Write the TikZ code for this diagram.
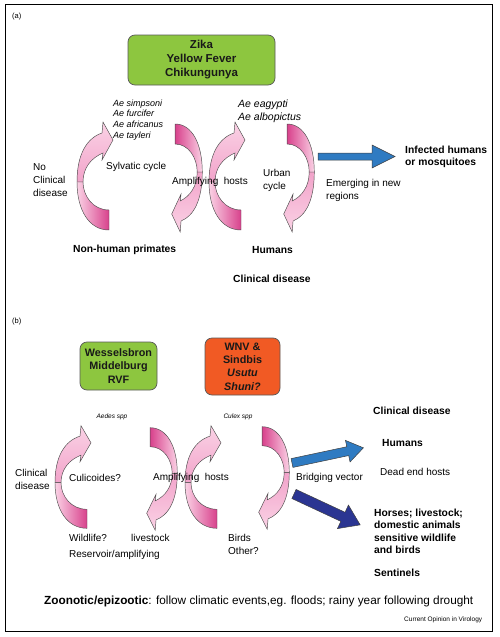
\documentclass[tikz,border=0pt]{standalone}
\usepackage{fontspec}
\setmainfont{Liberation Sans}
\usetikzlibrary{positioning}

\definecolor{pinklight}{HTML}{FAD2E5}
\definecolor{pinkmid}{HTML}{F2A3CA}
\definecolor{magdark}{HTML}{D8418C}
\definecolor{boxgreen}{HTML}{8DC63F}
\definecolor{boxorange}{HTML}{F15A24}
\definecolor{arrblue}{HTML}{2F7BC2}
\definecolor{arrnavy}{HTML}{2B3592}

\tikzset{
  lbl/.style={inner sep=0pt, anchor=west, font=\fontsize{10}{13}\selectfont},
  blbl/.style={lbl, font=\fontsize{10.3}{12.3}\selectfont\bfseries},
  spec/.style={lbl, anchor=north west, align=left, font=\fontsize{9}{10.7}\selectfont\itshape},
  virusbox/.style={draw=black!65, line width=0.7pt, rounded corners=7pt, align=center, inner sep=0pt, text=black!90},
  arrowline/.style={draw=black!70, line width=0.45pt},
  blockline/.style={draw=black!75, line width=0.5pt},
  upper band/.style={top color=pinklight, bottom color=pinkmid},
  lower band/.style={left color=pinklight, right color=magdark},
  flipped/.style={rotate=180, xscale=0.85,
    upper band/.style={top color=pinkmid, bottom color=pinklight},
    lower band/.style={left color=magdark, right color=pinklight}},
  carrow/.pic={
    % head and upper half of the band
    \shadedraw[arrowline, upper band] (-18,6) .. controls (-18,-22) and (-8,-38) .. (7,-43)
      -- (8,-54) -- (18,-36) -- (7,-16) -- (8,-23)
      .. controls (-4,-18) and (-12,-8) .. (-12,6) -- cycle;
    % lower half of the band, down to the tail
    \shadedraw[arrowline, lower band] (-18,6) .. controls (-18,34) and (-6,54) .. (14,54)
      -- (14,34) .. controls (-2,34) and (-12,20) .. (-12,6) -- cycle;
  }
}

\begin{document}
\begin{tikzpicture}[x=1pt,y=-1pt]
\useasboundingbox (0,0) rectangle (499,637);
\draw[line width=0.8pt] (5,4) rectangle (492,631);

% (a) sylvatic and urban cycles
\pic at (95,176) {carrow};
\pic[flipped] at (187,178) {carrow};
\pic at (227,176) {carrow};
\pic[flipped] at (299,178) {carrow};
\draw[blockline, fill=arrblue] (318,153) -- (372,153) -- (372,145) -- (395,156.5)
  -- (372,168) -- (372,160) -- (318,160) -- cycle;

% (b) two cycles
\pic[yscale=0.95] at (73,477) {carrow};
\pic[flipped, yscale=0.95] at (162,479) {carrow};
\pic[yscale=0.95] at (203,477) {carrow};
\pic[flipped, yscale=0.95] at (274,478) {carrow};
\begin{scope}[shift={(292,463)}, rotate=12]
  \draw[blockline, fill=arrblue] (0,-4.5) -- (57,-4.5) -- (57,-11) -- (73,0)
    -- (57,11) -- (57,4.5) -- (0,4.5) -- cycle;
\end{scope}
\begin{scope}[shift={(294,494)}, rotate=-25]
  \draw[blockline, fill=arrnavy] (0,-5) -- (54,-5) -- (54,-13) -- (73,0)
    -- (54,13) -- (54,5) -- (0,5) -- cycle;
\end{scope}

% labels (a)
\node[lbl, font=\fontsize{7.5}{9}\selectfont] (pa) at (12,17) {(a)};
\node[virusbox, fill=boxgreen, minimum width=147, minimum height=50,
  font=\fontsize{11.5}{14}\selectfont\bfseries] (flavi) at (201.5,60) {Zika\\Yellow Fever\\Chikungunya};
\node[spec] (sylvvec) at (113,99.5) {Ae simpsoni\\Ae furcifer\\Ae africanus\\Ae tayleri};
\node[spec, font=\fontsize{10.5}{13}\selectfont\itshape] (urbvec) at (238,100) {Ae eagypti\\Ae albopictus};
\node[lbl, anchor=north west, align=left] (noclin) at (33,163) {No\\Clinical\\disease};
\node[lbl] (sylv) at (106,167) {Sylvatic cycle};
\node[lbl] (amplA) at (172,182) {Amplifying\ \ hosts};
\node[lbl, anchor=north west, align=left] (urban) at (263,169) {Urban\\cycle};
\node[lbl, anchor=north west, align=left] (emerg) at (326,179) {Emerging in new\\regions};
\node[blbl] (nhp) at (73,250) {Non-human primates};
\node[blbl] (humA) at (252,250) {Humans};
\node[blbl] (clinA) at (233,279) {Clinical disease};
\node[blbl, anchor=north west, align=left] (infect) at (405,146) {Infected humans\\or mosquitoes};

% labels (b)
\node[lbl, font=\fontsize{7.5}{9}\selectfont] (pb) at (12,322) {(b)};
\node[virusbox, fill=boxgreen, minimum width=77, minimum height=48,
  font=\fontsize{10.8}{13.5}\selectfont\bfseries] (wess) at (118.5,366) {Wesselsbron\\Middelburg\\RVF};
\node[virusbox, fill=boxorange, minimum width=75, minimum height=57,
  font=\fontsize{10.8}{13.4}\selectfont\bfseries] (wnv) at (242.5,366.5) {WNV \&\\Sindbis\\\textit{Usutu}\\\textit{Shuni?}};
\node[lbl, anchor=center, font=\fontsize{6.5}{8}\selectfont\itshape] (aedes) at (112,417) {Aedes spp};
\node[lbl, anchor=center, font=\fontsize{6.5}{8}\selectfont\itshape] (culex) at (238,417) {Culex spp};
\node[blbl] (clinB) at (373,411) {Clinical disease};
\node[blbl] (humB) at (382,443) {Humans};
\node[lbl] (deadend) at (380,472) {Dead end hosts};
\node[lbl] (bridge) at (296,478) {Bridging vector};
\node[lbl, anchor=north west, align=left] (clinC) at (15,469) {Clinical\\disease};
\node[lbl] (culic) at (69,478) {Culicoides?};
\node[lbl] (amplB) at (153,478) {Amplifying\ \ hosts};
\node[lbl] (wild) at (69,538) {Wildlife?};
\node[lbl] (live) at (131,538) {livestock};
\node[lbl] (reserv) at (69,555) {Reservoir/amplifying};
\node[lbl, anchor=north west, align=left] (birds) at (228,534) {Birds\\Other?};
\node[blbl, anchor=north west, align=left] (horses) at (374,509) {Horses; livestock;\\domestic animals\\sensitive wildlife\\and birds};
\node[blbl] (sentin) at (374,573) {Sentinels};
\node[lbl, font=\fontsize{11.8}{14}\selectfont] (zoo) at (44,601)
  {\textbf{Zoonotic/epizootic}: follow climatic events,eg. floods; rainy year following drought};
\node[lbl, font=\fontsize{6.5}{8}\selectfont] (credit) at (404,620) {Current Opinion in Virology};
\end{tikzpicture}
\end{document}
